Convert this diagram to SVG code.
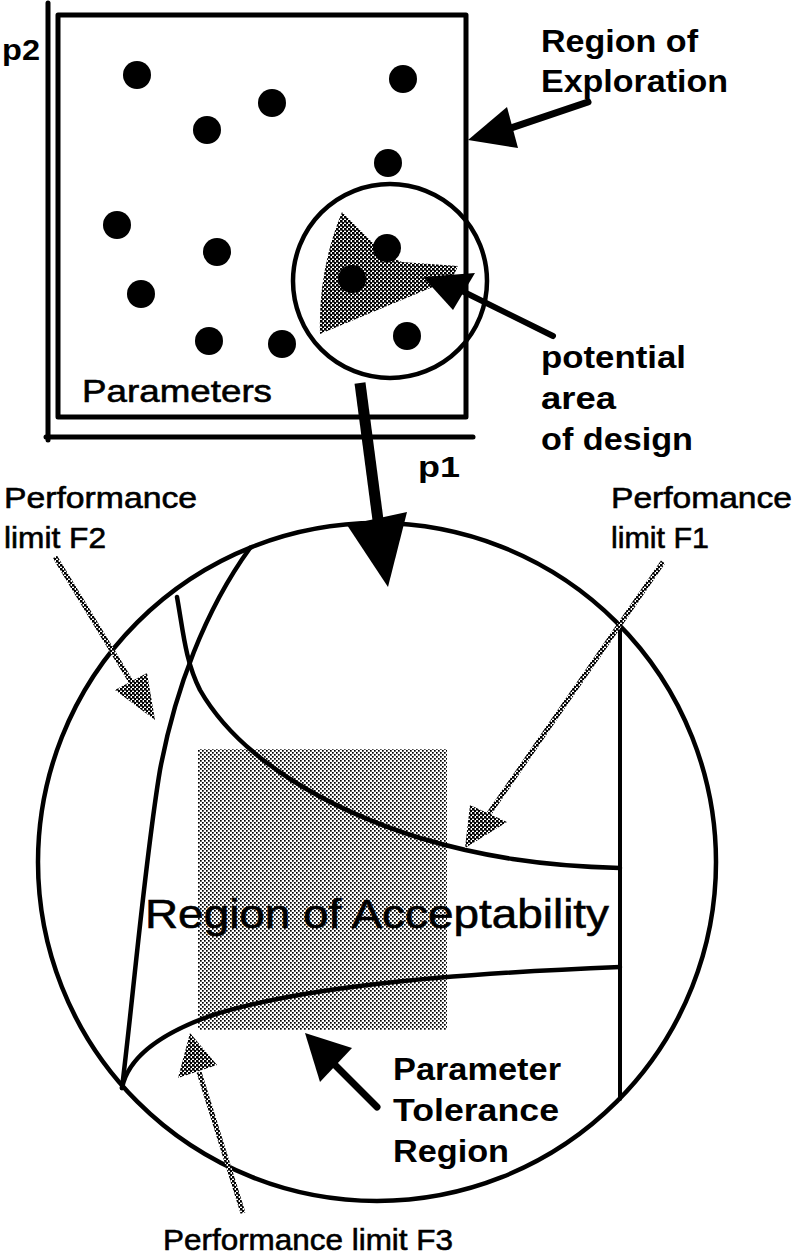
<svg xmlns="http://www.w3.org/2000/svg" width="794" height="1257" viewBox="0 0 794 1257">
<defs>
<pattern id="dark" width="4" height="4" patternUnits="userSpaceOnUse"><rect width="4" height="4" fill="#fff"/><rect x="0" y="0" width="2.6" height="2.6" fill="#000"/><rect x="2" y="2" width="2.6" height="2.6" fill="#000"/></pattern>
<pattern id="light" width="4" height="4" patternUnits="userSpaceOnUse"><rect width="4" height="4" fill="#fff"/><rect x="0" y="0" width="1.7" height="1.7" fill="#000"/><rect x="2" y="2" width="1.7" height="1.7" fill="#000"/></pattern>
</defs>
<style>
.ln{fill:none;stroke:#000;stroke-linecap:round;stroke-linejoin:round}
.dot{fill:#000}
.t{font-family:"Liberation Sans",Arial,Helvetica,sans-serif;fill:#000}
.r{stroke:#000;stroke-width:0.6}
.b{font-weight:bold}
.hatch{fill:url(#dark)}
.hshaft{fill:none;stroke:url(#dark);stroke-width:5}
</style>
<rect width="794" height="1257" fill="#fff"/>

<g id="exploration-region">
<line class="ln" x1="48" y1="3" x2="48" y2="440" stroke-width="5"/>
<line class="ln" x1="46" y1="437" x2="473" y2="437" stroke-width="5"/>
<rect class="ln" x="58" y="15" width="408" height="402" stroke-width="5" stroke-linecap="butt"/>
</g>

<g id="potential-area">
<path class="hatch" d="M342,212 L385,255 L402,262 L458,266 L452,279 L320,334 Q318,270 342,212 Z"/>
<circle class="ln" cx="390" cy="281" r="97" stroke-width="4.5"/>
</g>

<g id="sample-points">
<circle class="dot" cx="137" cy="75" r="14"/>
<circle class="dot" cx="403" cy="79" r="14"/>
<circle class="dot" cx="272" cy="103" r="14"/>
<circle class="dot" cx="207" cy="130" r="14"/>
<circle class="dot" cx="388" cy="163" r="14"/>
<circle class="dot" cx="117" cy="225" r="14"/>
<circle class="dot" cx="217" cy="252" r="14"/>
<circle class="dot" cx="141" cy="294" r="14"/>
<circle class="dot" cx="209" cy="341" r="14"/>
<circle class="dot" cx="282" cy="344" r="14"/>
<circle class="dot" cx="352" cy="279" r="14"/>
<circle class="dot" cx="387" cy="248" r="14"/>
<circle class="dot" cx="407" cy="336" r="14"/>
</g>

<g id="acceptability-space">
<rect x="198" y="749" width="249" height="281" fill="url(#light)"/>
<circle class="ln" cx="377" cy="862" r="339" stroke-width="4.5"/>
<path class="ln" stroke-width="4.5" d="M250,548 C205,610 175,690 160,770 C145,860 135,980 122,1088"/>
<path class="ln" stroke-width="4.5" d="M177,597 C183,630 185,660 200,690 C240,760 330,810 420,838 C480,856 540,866 620,868"/>
<path class="ln" stroke-width="4.5" d="M122,1088 C128,1058 160,1034 210,1016 C290,990 420,975 620,967"/>
<line class="ln" x1="620" y1="628" x2="620" y2="1099" stroke-width="4"/>
</g>

<g id="connectors">
<line class="ln" x1="588" y1="102" x2="505" y2="130" stroke-width="7"/>
<polygon points="468,140 507,107 518,148" fill="#000"/>
<line class="ln" x1="553" y1="336" x2="460" y2="290" stroke-width="6"/>
<polygon points="423,277 475,273 453,310" fill="#000"/>
<line x1="360" y1="383" x2="378" y2="520" stroke="#000" stroke-width="11"/>
<polygon points="347,525 407,512 388,587" fill="#000"/>
<line class="ln" x1="377" y1="1107" x2="330" y2="1060" stroke-width="7"/>
<polygon points="305,1033 352,1048 320,1082" fill="#000"/>
<line class="hshaft" x1="55" y1="557" x2="133" y2="685"/>
<polygon class="hatch" points="115,690 147,673 155,720"/>
<line class="hshaft" x1="663" y1="562" x2="488" y2="815"/>
<polygon class="hatch" points="470,805 507,822 465,848"/>
<line class="hshaft" x1="243" y1="1213" x2="199" y2="1072"/>
<polygon class="hatch" points="178,1078 217,1065 190,1033"/>
</g>

<g id="labels">
<text class="t b" x="2" y="60" font-size="30" textLength="38" lengthAdjust="spacingAndGlyphs">p2</text>
<text class="t b" x="541" y="52" font-size="32" textLength="157" lengthAdjust="spacingAndGlyphs">Region of</text>
<text class="t b" x="541" y="92" font-size="32" textLength="187" lengthAdjust="spacingAndGlyphs">Exploration</text>
<text class="t r" x="82" y="402" font-size="32" textLength="190" lengthAdjust="spacingAndGlyphs">Parameters</text>
<text class="t b" x="418" y="477" font-size="30" textLength="42" lengthAdjust="spacingAndGlyphs">p1</text>
<text class="t b" x="541" y="368" font-size="32" textLength="145" lengthAdjust="spacingAndGlyphs">potential</text>
<text class="t b" x="541" y="409" font-size="32" textLength="75" lengthAdjust="spacingAndGlyphs">area</text>
<text class="t b" x="541" y="450" font-size="32" textLength="152" lengthAdjust="spacingAndGlyphs">of design</text>
<text class="t r" x="4" y="508" font-size="30" textLength="193" lengthAdjust="spacingAndGlyphs">Performance</text>
<text class="t r" x="4" y="548" font-size="30" textLength="102" lengthAdjust="spacingAndGlyphs">limit F2</text>
<text class="t r" x="611" y="508" font-size="30" textLength="181" lengthAdjust="spacingAndGlyphs">Perfomance</text>
<text class="t r" x="611" y="548" font-size="30" textLength="98" lengthAdjust="spacingAndGlyphs">limit F1</text>
<text class="t r" x="145" y="928" font-size="41" textLength="464" lengthAdjust="spacingAndGlyphs">Region of Acceptability</text>
<text class="t b" x="393" y="1080" font-size="31" textLength="168" lengthAdjust="spacingAndGlyphs">Parameter</text>
<text class="t b" x="393" y="1121" font-size="31" textLength="166" lengthAdjust="spacingAndGlyphs">Tolerance</text>
<text class="t b" x="393" y="1162" font-size="31" textLength="116" lengthAdjust="spacingAndGlyphs">Region</text>
<text class="t r" x="163" y="1250" font-size="30" textLength="290" lengthAdjust="spacingAndGlyphs">Performance limit F3</text>
</g>
</svg>
